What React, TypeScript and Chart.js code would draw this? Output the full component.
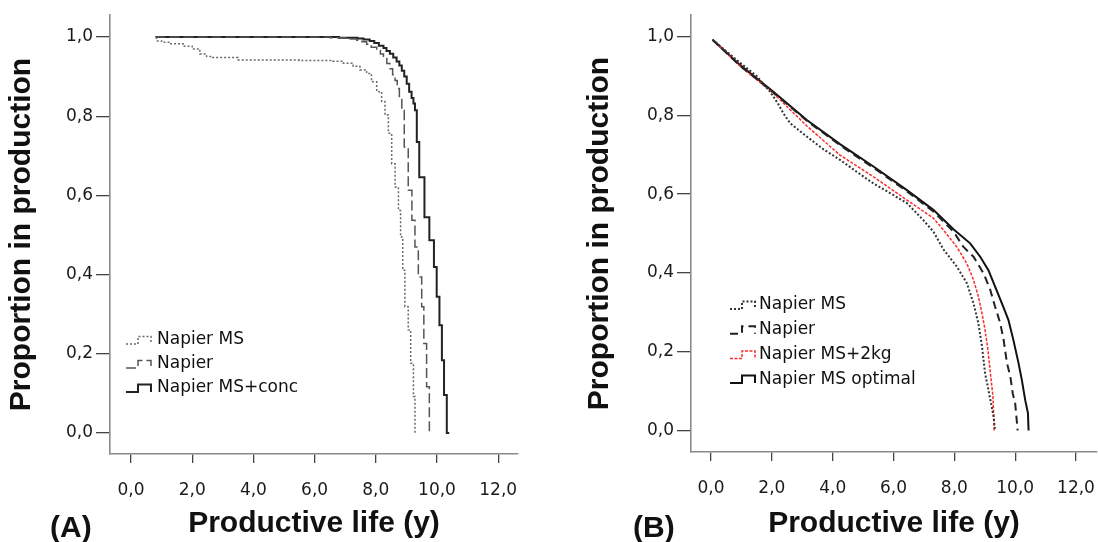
import React, { useEffect, useRef } from 'react';
import { Chart, registerables } from 'chart.js';

Chart.register(...registerables);

// ---------- shared axis ticks ----------
const xTickValues = [0, 2, 4, 6, 8, 10, 12];
const xTickLabels = ['0,0', '2,0', '4,0', '6,0', '8,0', '10,0', '12,0'];
const yTickValues = [0, 0.2, 0.4, 0.6, 0.8, 1.0];
const yTickLabels = ['0,0', '0,2', '0,4', '0,6', '0,8', '1,0'];

const xAxisTitle = 'Productive life (y)';
const yAxisTitle = 'Proportion in production';

// ---------- Panel A (Kaplan-Meier, step after) ----------
const aLabels = ['Napier MS', 'Napier', 'Napier MS+conc'];

const aNapierMSx = [0.84, 1.0, 1.3, 1.7, 2.0, 2.25, 2.47, 2.64, 3.5, 5.5, 6.6, 6.94, 7.26, 7.48, 7.7, 7.86, 8.03, 8.19, 8.3, 8.41, 8.52, 8.63, 8.74, 8.81, 8.88, 8.95, 9.06, 9.14, 9.23, 9.28, 9.33];
const aNapierMSy = [1.0, 0.99, 0.987, 0.983, 0.977, 0.97, 0.957, 0.951, 0.948, 0.942, 0.941, 0.939, 0.934, 0.926, 0.917, 0.908, 0.887, 0.862, 0.837, 0.803, 0.757, 0.68, 0.621, 0.562, 0.495, 0.411, 0.319, 0.26, 0.176, 0.092, 0.0];

const aNapierx = [0.8, 6.5, 7.1, 7.38, 7.55, 7.7, 7.85, 8.03, 8.15, 8.25, 8.36, 8.46, 8.55, 8.63, 8.7, 8.77, 8.85, 8.93, 9.06, 9.18, 9.28, 9.39, 9.5, 9.57, 9.66, 9.75, 9.82];
const aNapiery = [1.0, 1.0, 0.998, 0.995, 0.992, 0.988, 0.982, 0.974, 0.966, 0.957, 0.946, 0.933, 0.92, 0.905, 0.89, 0.87, 0.845, 0.815, 0.722, 0.613, 0.537, 0.47, 0.394, 0.319, 0.226, 0.117, 0.0];

const aConcx = [0.8, 6.8, 7.4, 7.6, 7.8, 7.95, 8.1, 8.25, 8.35, 8.46, 8.57, 8.68, 8.77, 8.85, 8.93, 9.01, 9.09, 9.17, 9.23, 9.28, 9.34, 9.42, 9.59, 9.75, 9.9, 9.99, 10.08, 10.16, 10.23, 10.32, 10.4];
const aConcy = [1.0, 1.0, 0.998, 0.996, 0.994, 0.99, 0.985, 0.978, 0.972, 0.965, 0.958, 0.948, 0.938, 0.928, 0.915, 0.9, 0.882, 0.862, 0.846, 0.832, 0.815, 0.735, 0.646, 0.545, 0.487, 0.419, 0.344, 0.272, 0.184, 0.096, 0.0];

// ---------- Panel B ----------
const bLabels = ['Napier MS', 'Napier', 'Napier MS+2kg', 'Napier MS optimal'];

const bNapierMSx = [0.05, 0.85, 1.5, 1.94, 2.2, 2.38, 2.6, 3.15, 3.69, 4.24, 4.8, 5.34, 5.9, 6.44, 6.98, 7.31, 7.64, 8.08, 8.41, 8.63, 8.79, 8.91, 9.01, 9.12, 9.23, 9.29, 9.34];
const bNapierMSy = [0.992, 0.94, 0.9, 0.86, 0.83, 0.805, 0.78, 0.746, 0.714, 0.687, 0.656, 0.627, 0.602, 0.577, 0.534, 0.505, 0.46, 0.416, 0.374, 0.323, 0.272, 0.213, 0.145, 0.103, 0.06, 0.035, 0.0];

const bNapierx = [0.05, 0.95, 2.05, 3.15, 4.24, 5.34, 6.44, 7.31, 7.97, 8.3, 8.63, 8.96, 9.18, 9.34, 9.51, 9.62, 9.73, 9.84, 9.92, 10.0, 10.06, 10.08];
const bNapiery = [0.992, 0.926, 0.858, 0.786, 0.724, 0.667, 0.607, 0.556, 0.505, 0.466, 0.441, 0.399, 0.357, 0.314, 0.272, 0.23, 0.171, 0.137, 0.094, 0.069, 0.018, 0.0];

const b2kgx = [0.05, 0.95, 2.05, 3.15, 4.24, 5.34, 6.44, 7.31, 7.64, 8.08, 8.41, 8.63, 8.79, 8.91, 9.01, 9.09, 9.15, 9.21, 9.27, 9.29, 9.31];
const b2kgy = [0.992, 0.925, 0.856, 0.773, 0.699, 0.644, 0.585, 0.539, 0.509, 0.466, 0.424, 0.382, 0.34, 0.297, 0.255, 0.213, 0.171, 0.128, 0.086, 0.044, 0.0];

const bOptimalx = [0.05, 0.95, 2.05, 3.15, 4.24, 5.34, 6.44, 7.31, 7.97, 8.52, 8.85, 9.12, 9.34, 9.56, 9.78, 9.94, 10.11, 10.22, 10.33, 10.42, 10.44];
const bOptimaly = [0.992, 0.928, 0.86, 0.788, 0.727, 0.67, 0.61, 0.56, 0.511, 0.475, 0.441, 0.407, 0.365, 0.323, 0.28, 0.23, 0.171, 0.128, 0.077, 0.044, 0.0];

const pts = (xs: number[], ys: number[]) => xs.map((x, i) => ({ x, y: ys[i] }));

const tickFont = { family: '"DejaVu Sans", sans-serif', size: 17 };
const titleFont = { family: '"Liberation Sans", Arial, sans-serif', size: 30, weight: 'bold' as const };

const stepLegendPlugin = {
  id: 'stepLegend',
  afterDraw(chart: any, _args: any, opts: any) {
    if (!opts || !opts.items) return;
    const { ctx, chartArea } = chart;
    const ix = chartArea.left + opts.iconX;
    const tx = chartArea.left + opts.textX;
    opts.items.forEach((it: any, i: number) => {
      const ds = chart.data.datasets[it.dataset];
      const cy = opts.y0 + i * opts.dy;
      ctx.save();
      ctx.strokeStyle = ds.borderColor;
      ctx.lineWidth = ds.borderWidth;
      ctx.setLineDash(ds.borderDash || []);
      ctx.beginPath();
      ctx.moveTo(ix, cy + 4);
      ctx.lineTo(ix + 12, cy + 4);
      ctx.lineTo(ix + 12, cy - 3.5);
      ctx.lineTo(ix + 25, cy - 3.5);
      ctx.lineTo(ix + 25, cy + 4);
      ctx.stroke();
      ctx.setLineDash([]);
      ctx.fillStyle = '#111';
      ctx.font = '17px "DejaVu Sans", sans-serif';
      ctx.textBaseline = 'middle';
      ctx.textAlign = 'left';
      ctx.fillText(it.label, tx, cy);
      ctx.restore();
    });
  },
};

type Geo = {
  width: number;
  height: number;
  xMin: number;
  xMax: number;
  yMin: number;
  yMax: number;
  yAxisWidth: number;
  xAxisHeight: number;
  padTop: number;
  padRight: number;
  yTitlePad: number;
};

function buildOptions(g: Geo, legend: any) {
  return {
    responsive: false,
    animation: false as const,
    layout: { padding: { left: 0, top: g.padTop, right: g.padRight, bottom: 0 } },
    plugins: {
      legend: { display: false },
      tooltip: { enabled: false },
      stepLegend: legend,
    },
    elements: { point: { radius: 0 }, line: { tension: 0 } },
    scales: {
      x: {
        type: 'linear' as const,
        min: g.xMin,
        max: g.xMax,
        afterBuildTicks: (s: any) => {
          s.ticks = xTickValues.map((v) => ({ value: v }));
        },
        afterFit: (s: any) => {
          s.height = g.xAxisHeight;
          s.paddingLeft = 0;
          s.paddingRight = 0;
          s.paddingTop = 0;
          s.paddingBottom = 0;
        },
        ticks: {
          autoSkip: false,
          maxRotation: 0,
          padding: 17,
          color: '#1a1a1a',
          font: tickFont,
          callback: (v: number) => {
            const i = xTickValues.indexOf(v);
            return i >= 0 ? xTickLabels[i] : '';
          },
        },
        grid: { display: true, drawOnChartArea: false, drawTicks: true, tickLength: 9, color: '#444', lineWidth: 1.3 },
        border: { display: true, color: '#8a8a8a', width: 1.6 },
        title: { display: true, text: xAxisTitle, color: '#111', font: titleFont, padding: { top: 0, bottom: 0 } },
      },
      y: {
        type: 'linear' as const,
        min: g.yMin,
        max: g.yMax,
        afterBuildTicks: (s: any) => {
          s.ticks = yTickValues.map((v) => ({ value: v }));
        },
        afterFit: (s: any) => {
          s.width = g.yAxisWidth;
          s.paddingLeft = 0;
          s.paddingRight = 0;
          s.paddingTop = 0;
          s.paddingBottom = 0;
        },
        ticks: {
          autoSkip: false,
          padding: 3,
          color: '#1a1a1a',
          font: tickFont,
          callback: (v: number) => {
            const i = yTickValues.indexOf(v);
            return i >= 0 ? yTickLabels[i] : '';
          },
        },
        grid: { display: true, drawOnChartArea: false, drawTicks: true, tickLength: 14, color: '#444', lineWidth: 1.3 },
        border: { display: true, color: '#8a8a8a', width: 1.6 },
        title: { display: true, text: yAxisTitle, color: '#111', font: titleFont, padding: { top: g.yTitlePad, bottom: 0 } },
      },
    },
  };
}

function Panel({ geo, datasets, legend, left }: { geo: Geo; datasets: any[]; legend: any; left: number }) {
  const ref = useRef<HTMLCanvasElement | null>(null);
  useEffect(() => {
    if (!ref.current) return;
    const chart = new Chart(ref.current, {
      type: 'line',
      data: { datasets },
      options: buildOptions(geo, legend) as any,
      plugins: [stepLegendPlugin],
    });
    return () => chart.destroy();
  }, []);
  return (
    <div style={{ position: 'absolute', left, top: 0, width: geo.width, height: geo.height }}>
      <canvas ref={ref} width={geo.width} height={geo.height} style={{ display: 'block' }} />
    </div>
  );
}

export default function App() {
  const geoA: Geo = {
    width: 549, height: 542,
    xMin: -0.686, xMax: 12.647, yMin: -0.053, yMax: 1.0556,
    yAxisWidth: 110, xAxisHeight: 88, padTop: 15, padRight: 31, yTitlePad: 4,
  };
  const geoB: Geo = {
    width: 549, height: 542,
    xMin: -0.658, xMax: 12.69, yMin: -0.0546, yMax: 1.0546,
    yAxisWidth: 142, xAxisHeight: 90, padTop: 15, padRight: 1, yTitlePad: 33,
  };

  const dsA = [
    { label: aLabels[0], data: pts(aNapierMSx, aNapierMSy), borderColor: '#6a6a6a', borderWidth: 1.5, borderDash: [2, 2], stepped: 'after', fill: false },
    { label: aLabels[1], data: pts(aNapierx, aNapiery), borderColor: '#555555', borderWidth: 1.5, borderDash: [10, 4], stepped: 'after', fill: false },
    { label: aLabels[2], data: pts(aConcx, aConcy), borderColor: '#222222', borderWidth: 2, stepped: 'after', fill: false },
  ];
  const dsB = [
    { label: bLabels[0], data: pts(bNapierMSx, bNapierMSy), borderColor: '#333333', borderWidth: 2, borderDash: [2, 2], fill: false },
    { label: bLabels[1], data: pts(bNapierx, bNapiery), borderColor: '#222222', borderWidth: 2, borderDash: [8, 5], fill: false },
    { label: bLabels[2], data: pts(b2kgx, b2kgy), borderColor: '#ff2a2a', borderWidth: 1.5, borderDash: [3, 1.5], fill: false },
    { label: bLabels[3], data: pts(bOptimalx, bOptimaly), borderColor: '#111111', borderWidth: 2, fill: false },
  ];

  const legA = { items: aLabels.map((l, i) => ({ label: l, dataset: i })), iconX: 16, textX: 47, y0: 340, dy: 24 };
  const legB = { items: bLabels.map((l, i) => ({ label: l, dataset: i })), iconX: 39, textX: 68, y0: 305, dy: 24.7 };

  const bigLabel: React.CSSProperties = {
    position: 'absolute', top: 511, fontFamily: '"Liberation Sans", Arial, sans-serif', fontWeight: 'bold', fontSize: 30, lineHeight: '32px', color: '#111',
  };

  return (
    <div style={{ position: 'absolute', left: 0, top: 0, width: 1098, height: 542, background: '#fff', overflow: 'hidden' }}>
      <Panel geo={geoA} datasets={dsA} legend={legA} left={0} />
      <Panel geo={geoB} datasets={dsB} legend={legB} left={549} />
      <div style={{ ...bigLabel, left: 50 }}>(A)</div>
      <div style={{ ...bigLabel, left: 633 }}>(B)</div>
    </div>
  );
}
